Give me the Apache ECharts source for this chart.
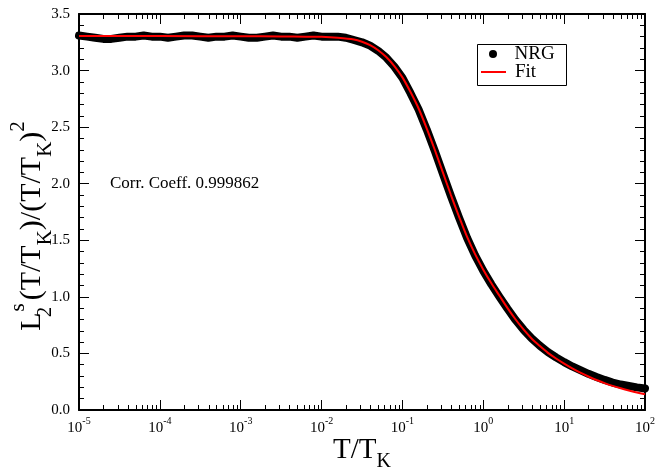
<!DOCTYPE html>
<html><head><meta charset="utf-8">
<script src="https://cdn.jsdelivr.net/npm/echarts@6/dist/echarts.min.js"></script>
<style>html,body{margin:0;padding:0;background:#fff}#c{width:656px;height:471px}</style>
</head><body><div id="c"></div>
<script>
// ---- data (x values are log10(T/T_K)) ----
const xDecades = [-5, -4, -3, -2, -1, 0, 1, 2];
const yTickValues = [0, 0.5, 1.0, 1.5, 2.0, 2.5, 3.0, 3.5];

const fitLogT = [-5.0, -4.0, -3.0, -2.5, -2.2, -2.0, -1.8, -1.6, -1.5, -1.4, -1.3, -1.2, -1.1, -1.0, -0.9, -0.8, -0.7, -0.6, -0.5, -0.4, -0.3, -0.2, -0.1, 0.0, 0.1, 0.2, 0.3, 0.4, 0.5, 0.6, 0.7, 0.8, 0.9, 1.0, 1.1, 1.2, 1.3, 1.4, 1.5, 1.6, 1.7, 1.8, 1.9, 2.0];
const fitValue = [3.305, 3.305, 3.303, 3.302, 3.30, 3.298, 3.29, 3.275, 3.255, 3.225, 3.18, 3.12, 3.04, 2.94, 2.81, 2.665, 2.49, 2.30, 2.10, 1.90, 1.71, 1.53, 1.375, 1.24, 1.12, 1.01, 0.90, 0.80, 0.71, 0.63, 0.565, 0.505, 0.455, 0.41, 0.368, 0.33, 0.296, 0.265, 0.238, 0.213, 0.192, 0.173, 0.155, 0.139];

const nrgLogT = [-5.0, -4.9, -4.8, -4.7, -4.6, -4.5, -4.4, -4.3, -4.2, -4.1, -4.0, -3.9, -3.8, -3.7, -3.6, -3.5, -3.4, -3.3, -3.2, -3.1, -3.0, -2.9, -2.8, -2.7, -2.6, -2.5, -2.4, -2.3, -2.2, -2.1, -2.0, -1.9, -1.8, -1.7, -1.6, -1.5, -1.4, -1.3, -1.2, -1.1, -1.0, -0.9, -0.8, -0.7, -0.6, -0.5, -0.4, -0.3, -0.2, -0.1, 0.0, 0.1, 0.2, 0.3, 0.4, 0.5, 0.6, 0.7, 0.8, 0.9, 1.0, 1.1, 1.2, 1.3, 1.4, 1.5, 1.6, 1.7, 1.8, 1.9, 2.0];
const nrgValue = [3.31, 3.30, 3.29, 3.28, 3.28, 3.29, 3.30, 3.30, 3.31, 3.30, 3.30, 3.29, 3.30, 3.31, 3.31, 3.30, 3.29, 3.30, 3.30, 3.31, 3.30, 3.29, 3.29, 3.30, 3.31, 3.30, 3.30, 3.29, 3.30, 3.31, 3.30, 3.30, 3.30, 3.29, 3.27, 3.25, 3.22, 3.175, 3.115, 3.035, 2.935, 2.80, 2.655, 2.48, 2.29, 2.09, 1.89, 1.70, 1.52, 1.365, 1.23, 1.11, 1.00, 0.895, 0.795, 0.708, 0.632, 0.568, 0.512, 0.465, 0.423, 0.385, 0.352, 0.32, 0.292, 0.266, 0.243, 0.225, 0.212, 0.20, 0.19];

const seriesNames = ['NRG', 'Fit'];
const annotation = 'Corr. Coeff. 0.999862';

// ---- chart ----
const serif = '"Liberation Serif", "Times New Roman", serif';
const fitData = fitLogT.map((x, i) => [x, fitValue[i]]);
const nrgData = nrgLogT.map((x, i) => [x, nrgValue[i]]);
const minorX = [];
xDecades.slice(0, -1).forEach(d => { for (let k = 2; k <= 9; k++) minorX.push([d + Math.log10(k), 0]); });

const axisLine = { show: true, onZero: false, lineStyle: { color: '#000', width: 2 } };
const axisTick = { show: true, inside: true, length: 10, lineStyle: { color: '#000', width: 1 } };
const minorTick = { show: true, splitNumber: 5, length: 5, lineStyle: { color: '#000', width: 1 } };

function titleRich(lineH, fs, sfs) {
  return {
    b: { fontFamily: serif, fontSize: fs, color: '#000', lineHeight: lineH, verticalAlign: 'middle' },
    sub: { fontFamily: serif, fontSize: sfs, color: '#000', lineHeight: 20, verticalAlign: 'bottom' },
    subz: { fontFamily: serif, fontSize: sfs, color: '#000', lineHeight: 20, verticalAlign: 'bottom', width: 1, align: 'left' },
    sup: { fontFamily: serif, fontSize: sfs, color: '#000', lineHeight: 20, verticalAlign: 'top' },
    supEnd: { fontFamily: serif, fontSize: sfs, color: '#000', lineHeight: 20, verticalAlign: 'top', padding: [0, 28, 0, 0] },
    sups: { fontFamily: serif, fontSize: sfs, color: '#000', lineHeight: 20, verticalAlign: 'top', align: 'left', padding: [0, 3, 0, 0] }
  };
}

const chart = echarts.init(document.getElementById('c'));
chart.setOption({
  animation: false,
  backgroundColor: '#fff',
  grid: { left: 79, right: 11, top: 14, bottom: 61, outerBoundsMode: 'none', containLabel: false },
  xAxis: [
    {
      type: 'value', min: xDecades[0], max: xDecades[xDecades.length - 1], interval: 1, position: 'bottom',
      axisLine, axisTick, splitLine: { show: false },
      axisLabel: {
        margin: 6,
        formatter: v => '{b|10}{s|' + v + '}',
        rich: {
          b: { fontFamily: serif, fontSize: 15, color: '#000', lineHeight: 20, verticalAlign: 'bottom' },
          s: { fontFamily: serif, fontSize: 10, color: '#000', lineHeight: 10, verticalAlign: 'top' }
        }
      },
      name: '{b|T/T}{sub|K}', nameLocation: 'middle', nameGap: 18, nameMoveOverlap: false,
      nameTextStyle: { rich: titleRich(44, 29, 20) }
    },
    {
      type: 'value', min: xDecades[0], max: xDecades[xDecades.length - 1], interval: 1, position: 'top',
      axisLine, axisTick, axisLabel: { show: false }, splitLine: { show: false }
    }
  ],
  yAxis: [
    {
      type: 'value', min: 0, max: 3.5, interval: 0.5, position: 'left',
      axisLine, axisTick, minorTick, splitLine: { show: false }, minorSplitLine: { show: false },
      axisLabel: { margin: 9, formatter: v => v.toFixed(1), fontFamily: serif, fontSize: 15, color: '#000' },
      name: '{b|L}{subz|2}{sups|s}{b|(T/T}{sub|K}{b|)/(T/T}{sub|K}{b|)}{supEnd|2}',
      nameLocation: 'middle', nameRotate: 90, nameGap: 23, nameMoveOverlap: false,
      nameTextStyle: { rich: titleRich(48, 30, 21) }
    },
    {
      type: 'value', min: 0, max: 3.5, interval: 0.5, position: 'right',
      axisLine, axisTick, minorTick, axisLabel: { show: false }, splitLine: { show: false }
    }
  ],
  legend: [
    {
      data: [{ name: seriesNames[0], icon: 'circle' }], left: 489, top: 44, padding: 0,
      itemWidth: 25, itemHeight: 8, selectedMode: false,
      textStyle: { fontFamily: serif, fontSize: 19, color: '#000', lineHeight: 20, padding: [0, 0, 0, 4] }
    },
    {
      data: [{ name: seriesNames[1], icon: 'rect' }], left: 481, top: 62, padding: 0,
      itemWidth: 25, itemHeight: 2, selectedMode: false,
      textStyle: { fontFamily: serif, fontSize: 19, color: '#000', lineHeight: 20, padding: [0, 0, 0, 4] }
    }
  ],
  graphic: [
    { type: 'rect', left: 475, top: 42, shape: { width: 89, height: 41 }, style: { fill: 'none', stroke: '#000', lineWidth: 1 }, z: 10 },
    { type: 'text', left: 110, top: 175, style: { text: annotation, font: '17px "Liberation Serif"', fill: '#000' } }
  ],
  series: [
    {
      name: seriesNames[0], type: 'line', data: nrgData, showSymbol: false, symbol: 'circle',
      lineStyle: { color: '#000', width: 8, cap: 'round', join: 'round' }, itemStyle: { color: '#000' },
      z: 2
    },
    {
      name: seriesNames[1], type: 'line', data: fitData, showSymbol: false, smooth: 0.3,
      lineStyle: { color: '#ff0000', width: 2 }, itemStyle: { color: '#ff0000' }, z: 3
    },
    {
      type: 'custom', data: minorX, silent: true, clip: false, z: 5,
      renderItem: (params, api) => {
        const pb = api.coord([api.value(0), 0]);
        const pt = api.coord([api.value(0), 3.5]);
        const x = Math.round(pb[0]) + 0.5;
        return {
          type: 'group', children: [
            { type: 'line', shape: { x1: x, y1: pb[1], x2: x, y2: pb[1] - 5 }, style: { stroke: '#000', lineWidth: 1 } },
            { type: 'line', shape: { x1: x, y1: pt[1], x2: x, y2: pt[1] + 5 }, style: { stroke: '#000', lineWidth: 1 } }
          ]
        };
      }
    }
  ]
});
</script></body></html>
